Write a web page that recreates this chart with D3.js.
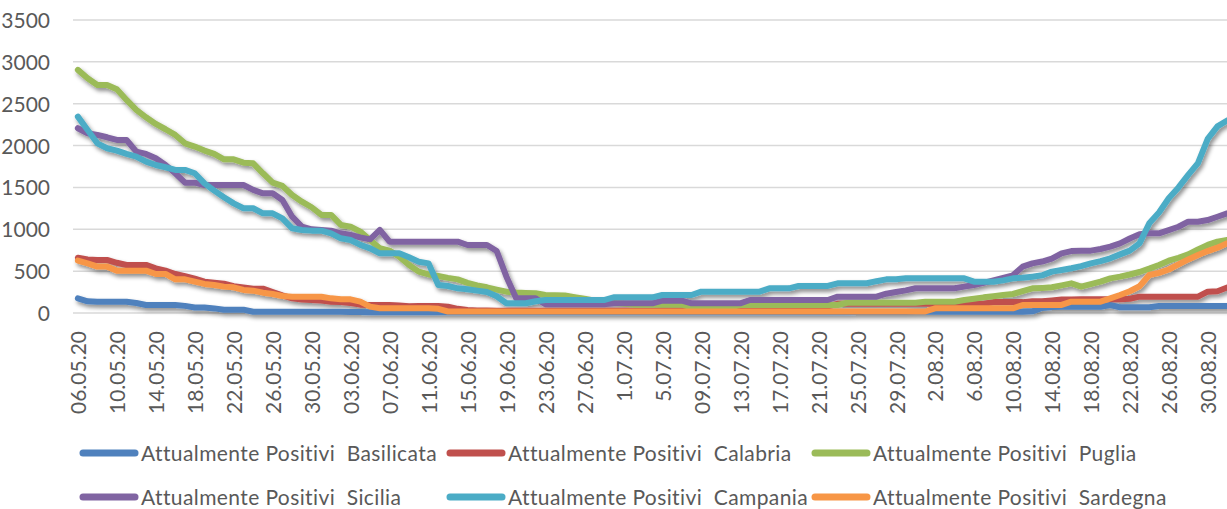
<!DOCTYPE html>
<html><head><meta charset="utf-8">
<script src="https://cdnjs.cloudflare.com/ajax/libs/d3/7.8.5/d3.min.js"></script>
<style>body{margin:0;background:#fff;} svg{display:block;}</style>
</head><body><svg id="c" width="1227" height="509"></svg>
<script>
const tickLabels = ["06.05.20","10.05.20","14.05.20","18.05.20","22.05.20","26.05.20","30.05.20","03.06.20","07.06.20","11.06.20","15.06.20","19.06.20","23.06.20","27.06.20","1.07.20","5.07.20","09.07.20","13.07.20","17.07.20","21.07.20","25.07.20","29.07.20","2.08.20","6.08.20","10.08.20","14.08.20","18.08.20","22.08.20","26.08.20","30.08.20"];
const yTicks = [0,500,1000,1500,2000,2500,3000,3500];
const seriesNames = ["Attualmente Positivi  Basilicata","Attualmente Positivi  Calabria","Attualmente Positivi  Puglia","Attualmente Positivi  Sicilia","Attualmente Positivi  Campania","Attualmente Positivi  Sardegna"];
const seriesColors = ["#4F81BD","#C0504D","#9BBB59","#8064A2","#4BACC6","#F79646"];

const basilicata = [175,140,135,135,135,135,120,95,95,95,
 95,85,66,66,55,40,40,40,15,15,
 15,15,15,15,15,15,15,15,12,12,
 10,8,8,8,8,8,8,8,8,8,
 8,8,8,8,8,8,8,8,8,8,
 8,8,8,8,8,8,8,8,8,8,
 8,8,8,8,8,8,8,8,10,10,
 10,10,10,10,10,10,10,10,10,10,
 12,12,12,12,12,12,15,15,15,15,
 15,15,15,15,15,15,15,15,20,60,
 72,75,75,75,75,75,96,68,68,68,
 68,84,84,84,84,84,84,84,84];
const calabria = [660,640,633,633,600,574,574,574,534,506,
 466,440,410,375,362,350,320,305,291,291,
 250,210,175,160,155,150,135,130,120,100,
 96,96,96,90,80,84,84,84,75,50,
 35,30,30,28,28,28,28,28,28,28,
 28,28,28,28,28,28,28,28,28,28,
 30,30,30,30,30,30,30,30,30,30,
 35,40,45,50,55,60,70,80,110,110,
 110,110,110,110,110,110,110,110,110,110,
 110,110,110,110,130,130,130,130,140,140,
 150,160,160,165,165,165,165,165,170,195,
 195,195,195,195,195,195,255,260,305];
const puglia = [2904,2804,2724,2724,2673,2545,2426,2338,2258,2195,
 2127,2027,1988,1940,1900,1836,1836,1796,1788,1669,
 1557,1518,1410,1330,1263,1171,1171,1052,1032,972,
 872,773,745,673,574,494,460,442,420,402,
 360,330,307,280,255,245,240,235,215,212,
 210,190,170,150,130,120,110,100,100,100,
 100,100,100,68,68,68,68,68,96,96,
 96,96,96,96,96,96,96,96,96,123,
 123,123,123,123,123,123,123,135,135,135,
 135,155,170,187,200,215,227,260,295,300,
 307,330,354,315,345,374,414,434,460,490,
 530,574,625,660,700,760,813,852,872];
const sicilia = [2207,2147,2127,2099,2067,2067,1928,1900,1848,1768,
 1669,1557,1557,1529,1529,1529,1529,1529,1470,1430,
 1430,1350,1151,1032,1000,992,984,952,932,904,
 880,992,852,852,852,852,852,852,852,852,
 812,812,812,740,434,175,175,175,104,104,
 104,104,104,104,104,116,116,116,116,116,
 147,147,147,116,116,116,116,116,116,155,
 155,155,155,155,155,155,155,155,195,195,
 195,195,195,230,250,270,295,295,295,295,
 295,315,335,360,390,420,450,554,593,615,
 650,713,740,745,745,765,793,832,890,940,
 952,952,990,1030,1091,1091,1110,1150,1191];
const campania = [2346,2187,2027,1968,1940,1900,1868,1808,1768,1741,
 1709,1709,1669,1549,1462,1382,1310,1251,1251,1191,
 1191,1131,1012,992,984,984,952,892,872,813,
 773,713,713,713,665,613,593,335,323,295,
 283,267,250,200,116,116,116,140,155,155,
 155,155,155,155,155,187,187,187,187,187,
 215,215,215,215,255,255,255,255,255,255,
 255,295,295,295,323,323,323,323,355,355,
 355,355,380,402,402,414,414,414,414,414,
 414,414,374,374,374,390,414,420,434,450,
 494,514,535,560,593,620,653,700,745,832,
 1071,1200,1370,1500,1650,1790,2080,2230,2300];
const sardegna = [625,593,554,554,506,506,506,506,466,466,
 402,402,374,347,335,315,307,275,267,243,
 227,203,195,195,195,195,175,163,163,135,
 76,56,56,56,56,56,56,50,18,18,
 18,18,18,18,18,18,18,18,18,18,
 18,18,18,18,18,18,18,18,18,18,
 18,18,18,18,18,18,18,18,18,18,
 18,18,18,18,18,18,18,18,18,18,
 18,18,18,18,18,18,18,18,56,56,
 56,56,56,56,56,56,56,96,96,96,
 96,96,135,135,135,135,175,215,260,320,
 454,480,520,580,640,693,740,780,832];

const seriesValues = [basilicata, calabria, puglia, sicilia, campania, sardegna];
const nPoints = basilicata.length;
const FONT = "Lato, 'Open Sans', sans-serif";
const TXT = "#595959";

const svg = d3.select("#c");
const left = 73, step = 9.74;
const x = d3.scalePoint().domain(d3.range(nPoints)).range([left, left + nPoints * step]).padding(0.5);
const y = d3.scaleLinear().domain([0, 3500]).range([313, 20]);

const defs = svg.append("defs");
const f = defs.append("filter").attr("id","sh").attr("x","-5%").attr("y","-10%").attr("width","115%").attr("height","130%");
f.append("feDropShadow").attr("dx",2).attr("dy",3).attr("stdDeviation",2.2).attr("flood-color","#000").attr("flood-opacity",0.45);

// gridlines
svg.append("g").selectAll("line").data(yTicks).join("line")
  .attr("x1", left).attr("x2", 1240)
  .attr("y1", d => y(d)).attr("y2", d => y(d))
  .attr("stroke", "#D9D9D9").attr("stroke-width", 1.5);

// y axis labels
const yAxis = d3.axisLeft(y).tickValues(yTicks).tickFormat(d3.format("d")).tickSize(0).tickPadding(0);
const yg = svg.append("g").attr("transform", "translate(50,0)").call(yAxis);
yg.select(".domain").remove();
yg.selectAll("text").attr("fill", TXT).style("font-family", FONT).style("font-size", "21px").attr("dy","0.36em");

// x axis labels
const tickIdx = tickLabels.map((_, i) => i * 4);
const xAxis = d3.axisBottom(x).tickValues(tickIdx).tickFormat((d, i) => tickLabels[i]).tickSize(0);
const xg = svg.append("g").attr("transform", "translate(0,331)").call(xAxis);
xg.select(".domain").remove();
xg.selectAll("text")
  .attr("fill", TXT).style("font-family", FONT).style("font-size", "21px")
  .attr("transform", "rotate(-90)")
  .attr("text-anchor", "end")
  .attr("x", 0).attr("y", 0).attr("dx", 0).attr("dy", "0.38em");

// lines
const line = d3.line().x((d, i) => x(i)).y(d => y(d));
const lg = svg.append("g").attr("filter", "url(#sh)");
lg.selectAll("path").data(seriesValues).join("path")
  .attr("d", d => line(d))
  .attr("fill", "none")
  .attr("stroke", (d, i) => seriesColors[i])
  .attr("stroke-width", 6)
  .attr("stroke-linejoin", "round")
  .attr("stroke-linecap", "round");

// legend
const legX = [80, 447, 812], legY = [453, 497];
const leg = svg.append("g");
seriesNames.forEach((name, i) => {
  const lx = legX[i % 3], ly = legY[Math.floor(i / 3)];
  leg.append("line").attr("x1", lx + 3).attr("x2", lx + 55).attr("y1", ly).attr("y2", ly)
    .attr("stroke", seriesColors[i]).attr("stroke-width", 7).attr("stroke-linecap", "round");
  leg.append("text").attr("x", lx + 61).attr("y", ly).attr("dy", "0.36em")
    .attr("fill", TXT).style("font-family", FONT).style("font-size", "21px")
    .style("letter-spacing", "0.4px")
    .style("white-space", "pre").text(name);
});
</script>
</body></html>
